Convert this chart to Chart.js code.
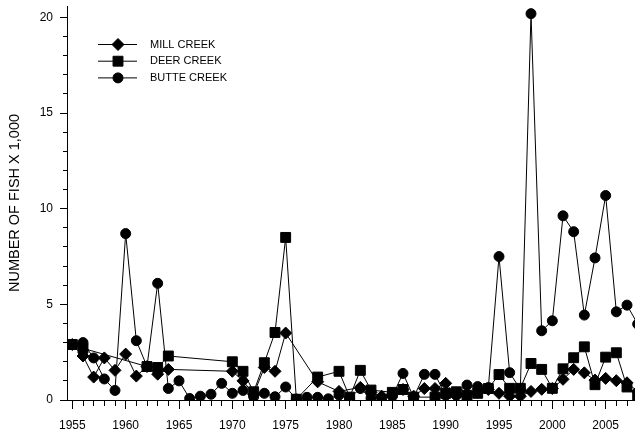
<!DOCTYPE html>
<html>
<head>
<meta charset="utf-8">
<script src="https://cdn.jsdelivr.net/npm/chart.js@4.4.0/dist/chart.umd.min.js"></script>
<style>
  html, body { margin: 0; padding: 0; background: #fff; }
  #wrap { width: 635px; height: 431px; }
</style>
</head>
<body>
<div id="wrap"><canvas id="fishChart"></canvas></div>
<script>
// spring-run chinook counts, thousands of fish
const millYears = [1955, 1956, 1957, 1958, 1959, 1960, 1961, 1962, 1963, 1964,
  1970, 1971, 1972, 1973, 1974, 1975, 1978, 1980,
  1982, 1983, 1984, 1985, 1986, 1987, 1988, 1989, 1990, 1991, 1992, 1993, 1994,
  1995, 1996, 1997, 1998, 1999, 2000, 2001, 2002, 2003, 2004, 2005, 2006, 2007, 2008];
const millValues = [2.9, 2.3, 1.2, 2.2, 1.55, 2.4, 1.25, 1.75, 1.35, 1.6,
  1.5, 1.0, 0.3, 1.7, 1.5, 3.5, 0.95, 0.45,
  0.66, 0.4, 0.2, 0.3, 0.55, 0.2, 0.6, 0.6, 0.87, 0.2, 0.3, 0.4, 0.55,
  0.35, 0.2, 0.2, 0.45, 0.56, 0.6, 1.08, 1.6, 1.42, 1.04, 1.13, 1.01, 0.9, 0.45];

const deerYears = [1955, 1956, 1962, 1963, 1964,
  1970, 1971, 1972, 1973, 1974, 1975, 1976, 1978,
  1980, 1981, 1982, 1983, 1985, 1986, 1987,
  1989, 1990, 1991, 1992, 1993, 1994, 1995, 1996, 1997, 1998,
  1999, 2000, 2001, 2002, 2003, 2004, 2005, 2006, 2007, 2008];
const deerValues = [2.9, 2.7, 1.75, 1.7, 2.3,
  2.0, 1.5, 0.43, 1.95, 3.53, 8.5, 0.04, 1.2,
  1.5, 0.15, 1.55, 0.52, 0.4, 0.55, 0.15,
  0.15, 0.35, 0.43, 0.25, 0.35, 0.6, 1.33, 0.61, 0.61, 1.91,
  1.6, 0.61, 1.63, 2.21, 2.78, 0.8, 2.24, 2.47, 0.68, 0.15];

const butteYears = [1955, 1956, 1957, 1958, 1959, 1960, 1961, 1962, 1963, 1964,
  1965, 1966, 1967, 1968, 1969, 1970, 1971, 1972, 1973, 1974,
  1975, 1976, 1977, 1978, 1979, 1980, 1981, 1982, 1983, 1984,
  1985, 1986, 1987, 1988, 1989, 1990, 1991, 1992, 1993, 1994,
  1995, 1996, 1997, 1998, 1999, 2000, 2001, 2002, 2003, 2004,
  2005, 2006, 2007, 2008];
const butteValues = [2.9, 3.0, 2.2, 1.1, 0.5, 8.7, 3.1, 1.75, 6.1, 0.6,
  1.0, 0.08, 0.2, 0.3, 0.87, 0.35, 0.5, 0.17, 0.35, 0.17,
  0.68, 0.05, 0.14, 0.14, 0.06, 0.26, 0.1, 0.6, 0.1, 0.1,
  0.2, 1.39, 0.14, 1.34, 1.34, 0.25, 0.3, 0.78, 0.7, 0.65,
  7.5, 1.43, 0.55, 20.2, 3.62, 4.14, 9.63, 8.8, 4.44, 7.43,
  10.69, 4.61, 4.96, 3.97];

const seriesNames = ['MILL CREEK', 'DEER CREEK', 'BUTTE CREEK'];
const yTitle = 'NUMBER OF FISH X 1,000';

const toPoints = (xs, ys) => xs.map((x, i) => ({ x: x, y: ys[i] }));
const fontFamily = '"Liberation Sans", Arial, sans-serif';

function lineSet(label, pts, style, r) {
  return {
    label: label,
    data: pts,
    borderColor: '#000',
    borderWidth: 1,
    backgroundColor: '#000',
    pointBackgroundColor: '#000',
    pointBorderColor: '#000',
    pointBorderWidth: 1,
    pointStyle: style,
    pointRadius: r,
    tension: 0,
    fill: false
  };
}

// legend with line through marker, top-left of plot
const legendBox = {
  id: 'legendBox',
  afterDatasetsDraw(chart) {
    const { ctx, chartArea } = chart;
    ctx.save();
    chart.data.datasets.forEach((ds, i) => {
      const y = chartArea.top + 38.5 + i * 16.7;
      const x0 = chartArea.left + 31;
      ctx.strokeStyle = '#000';
      ctx.fillStyle = '#000';
      ctx.lineWidth = 1;
      ctx.beginPath();
      ctx.moveTo(x0, y);
      ctx.lineTo(x0 + 39, y);
      ctx.stroke();
      Chart.helpers.drawPoint(ctx, { pointStyle: ds.pointStyle, radius: ds.pointRadius, rotation: 0, borderWidth: 1 }, x0 + 20, y);
      ctx.font = '11px ' + fontFamily;
      ctx.textBaseline = 'middle';
      ctx.textAlign = 'left';
      ctx.fillText(ds.label, chartArea.left + 83, y);
    });
    ctx.restore();
  }
};

new Chart(document.getElementById('fishChart'), {
  type: 'line',
  data: {
    datasets: [
      lineSet(seriesNames[0], toPoints(millYears, millValues), 'rectRot', 6),
      lineSet(seriesNames[1], toPoints(deerYears, deerValues), 'rect', 7),
      lineSet(seriesNames[2], toPoints(butteYears, butteValues), 'circle', 5)
    ]
  },
  options: {
    responsive: true,
    maintainAspectRatio: false,
    animation: false,
    layout: { autoPadding: false, padding: { top: 6, right: 0, bottom: 0, left: 0 } },
    plugins: {
      legend: { display: false },
      tooltip: { enabled: false }
    },
    scales: {
      x: {
        type: 'linear',
        min: 1954.5,
        max: 2007.75,
        afterFit(scale) {
          scale.height = 31;
          scale.paddingLeft = 0;
          scale.paddingRight = 0;
        },
        border: { display: true, color: '#000', width: 1 },
        grid: {
          drawOnChartArea: false,
          drawTicks: true,
          tickLength: 9,
          tickColor: '#000',
          tickBorderDash: (c) => (c.tick && c.tick.value % 5 !== 0) ? [5, 100] : []
        },
        ticks: {
          stepSize: 1,
          autoSkip: false,
          includeBounds: false,
          maxRotation: 0,
          padding: 9,
          color: '#000',
          font: { family: fontFamily, size: 12 },
          callback: (v) => v % 5 === 0 ? String(v) : ''
        }
      },
      y: {
        min: 0,
        max: 20.6,
        afterFit(scale) {
          scale.width = 67;
          scale.paddingTop = 0;
          scale.paddingBottom = 0;
        },
        border: { display: true, color: '#000', width: 1 },
        grid: {
          drawOnChartArea: false,
          drawTicks: true,
          tickLength: 7,
          tickColor: '#000',
          tickBorderDash: (c) => (c.tick && c.tick.value % 5 !== 0) ? [4, 100] : [],
          tickBorderDashOffset: (c) => (c.tick && c.tick.value % 5 !== 0) ? -3 : 0
        },
        ticks: {
          stepSize: 1,
          autoSkip: false,
          includeBounds: false,
          padding: 7,
          color: '#000',
          font: { family: fontFamily, size: 12 },
          callback: (v) => v % 5 === 0 ? String(v) : ''
        },
        title: {
          display: true,
          text: yTitle,
          color: '#000',
          font: { family: fontFamily, size: 14.5 },
          padding: { top: 6, bottom: 0 }
        }
      }
    }
  },
  plugins: [legendBox]
});
</script>
</body>
</html>
